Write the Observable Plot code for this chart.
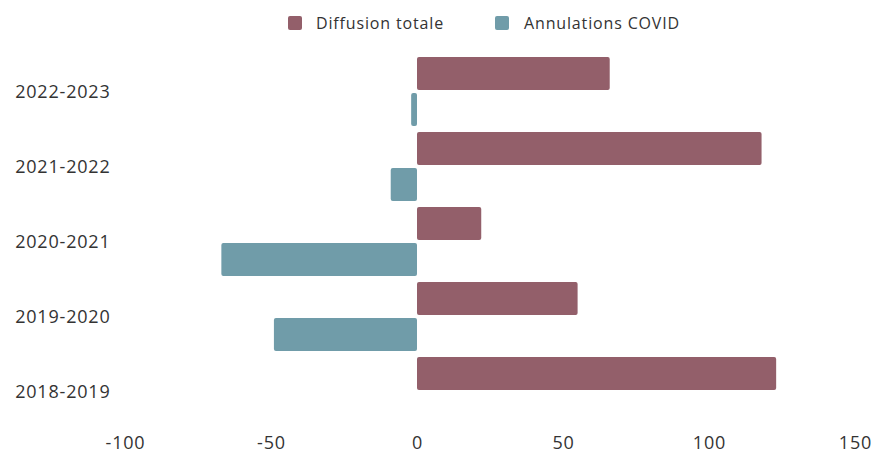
<!DOCTYPE html>
<html><head><meta charset="utf-8">
<script src="https://cdn.jsdelivr.net/npm/d3@7"></script>
<script src="https://cdn.jsdelivr.net/npm/@observablehq/plot@0.6"></script>
<style>
body{margin:0;background:#fff;font-family:"Open Sans",sans-serif;}
#legend{position:relative;height:45px;width:878px;}
.sw{position:absolute;width:14px;height:14px;top:16px;border-radius:2px}
.lb{position:absolute;top:12px;line-height:22px;font-size:16px;letter-spacing:0.85px;color:#333;white-space:nowrap}
#chart svg text{letter-spacing:0.8px}
</style>
</head><body>
<div id="legend"></div>
<div id="chart"></div>
<script>
const periods = ["2018-2019","2019-2020","2020-2021","2021-2022","2022-2023"];
const diffusion = [123, 55, 22, 118, 66];
const annulations = [null, -49, -67, -9, -2];
const seriesNames = ["Diffusion totale", "Annulations COVID"];
const seriesColors = ["#935f6a", "#709ca9"];
const xTicks = [-100, -50, 0, 50, 100, 150];

const rows = [];
periods.forEach((p, i) => {
  rows.push({period: p, series: seriesNames[0], value: diffusion[i]});
  if (annulations[i] != null) rows.push({period: p, series: seriesNames[1], value: annulations[i]});
});

// legend
const legend = document.getElementById("legend");
const legendPos = [[288, 316], [495, 524]];
seriesNames.forEach((s, i) => {
  const sw = document.createElement("div");
  sw.className = "sw"; sw.style.left = legendPos[i][0] + "px"; sw.style.background = seriesColors[i];
  const lb = document.createElement("div");
  lb.className = "lb"; lb.style.left = legendPos[i][1] + "px"; lb.textContent = s;
  legend.append(sw, lb);
});

const chart = Plot.plot({
  width: 878,
  height: 408,
  marginLeft: 125,
  marginRight: 23,
  marginTop: 5,
  marginBottom: 20,
  style: {fontSize: "18px", fontFamily: "Open Sans, sans-serif", color: "#333", background: "#fff"},
  x: {domain: [-100, 150], ticks: xTicks, tickFormat: d => String(d), tickSize: 0, tickPadding: 3, label: null},
  y: {domain: periods.slice().reverse(), padding: 0.08, tickSize: 0, tickPadding: 15, label: null},
  color: {domain: seriesNames, range: seriesColors},
  marks: [
    Plot.barX(rows.filter(d => d.series === seriesNames[0]), {x: "value", y: "period", fill: "series", insetBottom: 36, rx: 2}),
    Plot.barX(rows.filter(d => d.series === seriesNames[1]), {x: "value", y: "period", fill: "series", insetTop: 36, rx: 2})
  ]
});
document.getElementById("chart").append(chart);
</script>
</body></html>
